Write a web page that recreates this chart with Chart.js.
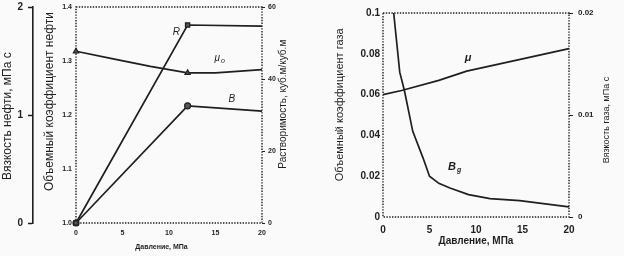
<!DOCTYPE html>
<html lang="ru">
<head>
<meta charset="utf-8">
<script src="https://cdn.jsdelivr.net/npm/chart.js@4/dist/chart.umd.min.js"></script>
<style>
  html, body { margin: 0; padding: 0; background: #fafafa; }
  #quadro { position: relative; width: 624px; height: 256px; overflow: hidden; }
  canvas { position: absolute; top: 0; }
  #neftChart { left: 0; }
  #gazChart { left: 320px; }
</style>
</head>
<body>
<div id="quadro">
  <canvas id="neftChart" width="300" height="256"></canvas>
  <canvas id="gazChart" width="304" height="256"></canvas>
</div>
<script>
// Свойства нефти (левая панель) и газа (правая панель) в зависимости от давления.

// --- нефть ---
const davlenieR = [0, 12, 20];
const rastvorimost = [0, 55, 54.7];            // R, куб.м/куб.м

const davlenieB = [0, 12, 20];
const obKoefNefti = [1.0, 1.217, 1.207];       // B

const davlenieMuN = [0, 4, 8, 12, 15, 20];
const vyazkostNefti = [1.59, 1.52, 1.45, 1.39, 1.39, 1.42];  // мПа с

const davlenieMarkery = [0, 12];

// --- газ ---
const davlenieBg = [1.15, 1.8, 2.3, 3.2, 4.3, 5, 6, 7.2, 9.2, 11.5, 14.7, 20];
const obKoefGaza = [0.1, 0.071, 0.062, 0.042, 0.029, 0.02, 0.0165, 0.0142, 0.011, 0.009, 0.008, 0.005];

const davlenieMuG = [0, 2, 6, 9, 15, 20];
const vyazkostGaza = [0.012, 0.0124, 0.0134, 0.0143, 0.0155, 0.0165];

const ticksDavlenie = [0, 5, 10, 15, 20];


const COR = "#1f1f1f";
const FAMILIA = "'Liberation Sans', Arial, sans-serif";

Chart.defaults.color = COR;
Chart.defaults.font.family = FAMILIA;


function pontos(xs, ys) {
  return xs.map((x, i) => ({ x, y: ys[i] }));
}


// ---------------------------------------------------------------------------
// Plugins
// ---------------------------------------------------------------------------

// Moldura pontilhada em volta da área do gráfico.
const moldura = {
  id: "moldura",
  beforeDatasetsDraw(chart) {
    const { ctx, chartArea: a } = chart;
    ctx.save();
    ctx.strokeStyle = COR;
    ctx.lineWidth = 1.4;
    ctx.setLineDash([1.4, 1.4]);
    ctx.strokeRect(a.left, a.top, a.right - a.left, a.bottom - a.top);
    ctx.restore();
  },
};


// Títulos dos eixos (verticais sempre de baixo para cima, como no original).
const titulos = {
  id: "titulos",
  afterDraw(chart, args, opts) {
    const { ctx, scales } = chart;
    for (const t of opts.itens || []) {
      const s = scales[t.eixo];
      ctx.save();
      ctx.font = t.fonte;
      ctx.fillStyle = COR;
      ctx.textAlign = "center";
      ctx.textBaseline = "middle";
      if (s.isHorizontal()) {
        ctx.fillText(t.texto, s.getPixelForValue(t.centro), s.bottom - t.recuo);
      } else {
        const x = s.position === "left" ? s.left + t.recuo : s.right - t.recuo;
        ctx.translate(x, s.getPixelForValue(t.centro));
        ctx.rotate(-Math.PI / 2);
        ctx.fillText(t.texto, 0, 0);
      }
      ctx.restore();
    }
  },
};


// Rótulos das curvas (R, μо, B, ...) posicionados em coordenadas de dados.
const rotulos = {
  id: "rotulos",
  afterDatasetsDraw(chart, args, opts) {
    const { ctx, scales } = chart;
    ctx.save();
    ctx.fillStyle = COR;
    ctx.textBaseline = "middle";
    for (const r of opts.itens || []) {
      const x = scales.x.getPixelForValue(r.x);
      const y = scales[r.eixo].getPixelForValue(r.y);
      ctx.font = opts.fonte;
      ctx.fillText(r.texto, x, y);
      if (r.indice) {
        const w = ctx.measureText(r.texto).width;
        ctx.font = opts.fonteIndice;
        ctx.fillText(r.indice, x + w + 1, y + 3);
      }
    }
    ctx.restore();
  },
};


function serie(label, data, eixo, estilo) {
  return {
    label,
    data,
    yAxisID: eixo,
    clip: false,
    borderColor: COR,
    borderWidth: 1.7,
    tension: 0,
    pointStyle: estilo || "circle",
    pointRadius: (c) => (estilo && davlenieMarkery.includes(c.raw.x) ? 3 : 0),
    pointBackgroundColor: "#555",
    pointBorderColor: COR,
    pointBorderWidth: 1.2,
  };
}


// Largura fixa do eixo vertical, sem reservar espaço extra para meia etiqueta.
function larguraFixa(w) {
  return (s) => {
    s.width = w;
    s.paddingTop = 0;
    s.paddingBottom = 0;
  };
}


function eixoX(fonteTick, padding, altura) {
  return {
    type: "linear",
    min: 0,
    max: 20,
    afterBuildTicks: (s) => { s.ticks = ticksDavlenie.map((v) => ({ value: v })); },
    ticks: { padding, font: fonteTick, maxRotation: 0 },
    grid: { display: false, drawTicks: false },
    border: { display: false },
    afterFit: (s) => {
      s.height = altura;
      s.paddingLeft = 0;
      s.paddingRight = 0;
    },
  };
}


// ---------------------------------------------------------------------------
// Нефть
// ---------------------------------------------------------------------------

new Chart(document.getElementById("neftChart"), {
  type: "line",
  data: {
    datasets: [
      serie("R", pontos(davlenieR, rastvorimost), "yR", "rect"),
      serie("μо", pontos(davlenieMuN, vyazkostNefti), "yMu", "triangle"),
      serie("B", pontos(davlenieB, obKoefNefti), "y", "circle"),
    ],
  },
  options: {
    responsive: false,
    animation: false,
    layout: { padding: { top: 7, right: 8, bottom: 0, left: 0 } },
    plugins: {
      legend: { display: false },
      tooltip: { enabled: false },
      titulos: {
        itens: [
          { eixo: "x", texto: "Давление, МПа", centro: 9.2, recuo: 9, fonte: `bold 7px ${FAMILIA}` },
          { eixo: "yMu", texto: "Вязкость нефти, мПа с", centro: 0.99, recuo: 8, fonte: `12px ${FAMILIA}` },
          { eixo: "y", texto: "Объемный коэффициент нефти", centro: 1.225, recuo: 17, fonte: `12px ${FAMILIA}` },
          { eixo: "yR", texto: "Растворимость, куб.м/куб.м", centro: 33, recuo: 9, fonte: `10px ${FAMILIA}` },
        ],
      },
      rotulos: {
        fonte: `italic 10px ${FAMILIA}`,
        fonteIndice: `italic 7px ${FAMILIA}`,
        itens: [
          { texto: "R", x: 10.4, y: 53, eixo: "yR" },
          { texto: "μ", indice: "о", x: 14.9, y: 1.53, eixo: "yMu" },
          { texto: "B", x: 16.4, y: 1.23, eixo: "y" },
        ],
      },
    },
    scales: {
      x: eixoX({ size: 7, weight: "bold" }, 6, 33),
      y: {
        position: "left",
        weight: 0,
        min: 1,
        max: 1.4,
        ticks: { stepSize: 0.1, padding: 4, font: { size: 7, weight: "bold" }, callback: (v) => v.toFixed(1) },
        grid: { display: false, drawTicks: false },
        border: { display: false },
        afterFit: larguraFixa(43),
      },
      yMu: {
        position: "left",
        weight: 1,
        min: 0,
        max: 2,
        ticks: { stepSize: 1, padding: 5, font: { size: 10, weight: "bold" } },
        grid: { drawOnChartArea: false, drawTicks: true, tickLength: 5, tickColor: COR, tickWidth: 1.5 },
        border: { display: true, color: COR, width: 1.6 },
        afterFit: larguraFixa(33),
      },
      yR: {
        position: "right",
        min: 0,
        max: 60,
        ticks: { stepSize: 20, padding: 3, font: { size: 7, weight: "bold" } },
        grid: { drawOnChartArea: false, drawTicks: true, tickLength: 3, tickColor: COR },
        border: { display: false },
        afterFit: larguraFixa(30),
      },
    },
  },
  plugins: [moldura, titulos, rotulos],
});


// ---------------------------------------------------------------------------
// Газ
// ---------------------------------------------------------------------------

new Chart(document.getElementById("gazChart"), {
  type: "line",
  data: {
    datasets: [
      serie("Bg", pontos(davlenieBg, obKoefGaza), "y"),
      serie("μ", pontos(davlenieMuG, vyazkostGaza), "yMu"),
    ],
  },
  options: {
    responsive: false,
    animation: false,
    layout: { padding: { top: 13, right: 5, bottom: 0, left: 0 } },
    plugins: {
      legend: { display: false },
      tooltip: { enabled: false },
      titulos: {
        itens: [
          { eixo: "x", texto: "Давление, МПа", centro: 10, recuo: 15, fonte: `bold 10px ${FAMILIA}` },
          { eixo: "y", texto: "Объемный коэффициент газа", centro: 0.055, recuo: 20, fonte: `11px ${FAMILIA}` },
          { eixo: "yMu", texto: "Вязкость газа, мПа с", centro: 0.0095, recuo: 12, fonte: `9px ${FAMILIA}` },
        ],
      },
      rotulos: {
        fonte: `italic bold 11px ${FAMILIA}`,
        fonteIndice: `italic bold 7px ${FAMILIA}`,
        itens: [
          { texto: "μ", x: 8.8, y: 0.078, eixo: "y" },
          { texto: "B", indice: "g", x: 7.0, y: 0.0247, eixo: "y" },
        ],
      },
    },
    scales: {
      x: eixoX({ size: 10, weight: "bold" }, 7, 39),
      y: {
        position: "left",
        min: 0,
        max: 0.1,
        ticks: { stepSize: 0.02, padding: 3, font: { size: 10, weight: "bold" }, callback: (v) => String(+v.toFixed(3)) },
        grid: { display: false, drawTicks: false },
        border: { display: false },
        afterFit: larguraFixa(63),
      },
      yMu: {
        position: "right",
        min: 0,
        max: 0.02,
        ticks: { stepSize: 0.01, padding: 5, font: { size: 8, weight: "bold" }, callback: (v) => String(+v.toFixed(3)) },
        grid: { drawOnChartArea: false, drawTicks: true, tickLength: 4, tickColor: COR },
        border: { display: false },
        afterFit: larguraFixa(50),
      },
    },
  },
  plugins: [moldura, titulos, rotulos],
});
</script>
</body>
</html>
